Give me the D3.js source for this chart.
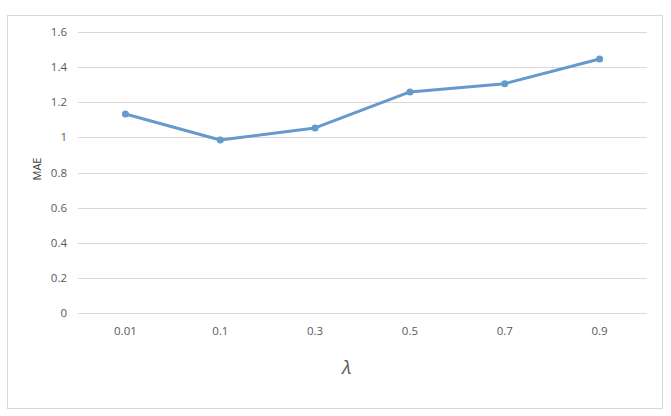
<!DOCTYPE html>
<html>
<head>
<meta charset="utf-8">
<script src="https://cdn.jsdelivr.net/npm/d3@7"></script>
<style>
  body { margin: 0; background: #fff; }
  text { font-family: "Open Sans", sans-serif; }
</style>
</head>
<body>
<script>
// lambda values on x, MAE on y
const lambdas = ["0.01", "0.1", "0.3", "0.5", "0.7", "0.9"];
const maeValues = [1.133, 0.985, 1.054, 1.259, 1.306, 1.446];
const yTicks = [0, 0.2, 0.4, 0.6, 0.8, 1, 1.2, 1.4, 1.6];

const W = 671, H = 416;
const svg = d3.select("body").append("svg")
    .attr("width", W)
    .attr("height", H);

// outer chart frame
svg.append("rect")
    .attr("x", 7.5).attr("y", 15.5)
    .attr("width", 655).attr("height", 393)
    .attr("fill", "#fff")
    .attr("stroke", "#d9d9d9");

let x = d3.scaleBand().domain(lambdas).range([78, 647]);
let y = d3.scaleLinear().domain([0, 1.6]).range([313, 32]);

// gridlines
svg.selectAll(".grid")
    .data(yTicks)
    .enter()
    .append("line")
    .attr("class", "grid")
    .attr("x1", 78).attr("x2", 647)
    .attr("y1", d => Math.round(y(d)) + 0.5)
    .attr("y2", d => Math.round(y(d)) + 0.5)
    .attr("stroke", "#d9d9d9")
    .attr("stroke-width", 1);

// y tick labels
svg.selectAll(".ylab")
    .data(yTicks)
    .enter()
    .append("text")
    .attr("class", "ylab")
    .attr("x", 67)
    .attr("y", d => y(d))
    .attr("dy", "0.35em")
    .attr("text-anchor", "end")
    .attr("font-size", 11.5)
    .attr("fill", "#595959")
    .text(d => d);

// x tick labels
svg.selectAll(".xlab")
    .data(lambdas)
    .enter()
    .append("text")
    .attr("class", "xlab")
    .attr("x", d => x(d) + x.bandwidth() / 2)
    .attr("y", 331)
    .attr("dy", "0.35em")
    .attr("text-anchor", "middle")
    .attr("font-size", 11.5)
    .attr("fill", "#595959")
    .text(d => d);

// axis titles
svg.append("text")
    .attr("transform", "translate(37,169) rotate(-90)")
    .attr("text-anchor", "middle")
    .attr("dy", "0.35em")
    .attr("font-size", 11)
    .attr("fill", "#404040")
    .text("MAE");

svg.append("text")
    .attr("x", 347).attr("y", 367)
    .attr("dy", "0.35em")
    .attr("text-anchor", "middle")
    .attr("font-size", 19)
    .attr("font-style", "italic")
    .attr("font-family", "'DejaVu Serif', serif")
    .attr("fill", "#595959")
    .text("λ");

// the line
let pts = lambdas.map((l, i) => ({ l: l, v: maeValues[i] }));
let line = d3.line()
    .x(d => x(d.l) + x.bandwidth() / 2)
    .y(d => y(d.v));

svg.append("path")
    .datum(pts)
    .attr("d", line)
    .attr("fill", "none")
    .attr("stroke", "#6699cc")
    .attr("stroke-width", 3)
    .attr("stroke-linejoin", "round");

svg.selectAll(".pt")
    .data(pts)
    .enter()
    .append("circle")
    .attr("class", "pt")
    .attr("cx", d => x(d.l) + x.bandwidth() / 2)
    .attr("cy", d => y(d.v))
    .attr("r", 3.5)
    .attr("fill", "#6699cc");
</script>
</body>
</html>
